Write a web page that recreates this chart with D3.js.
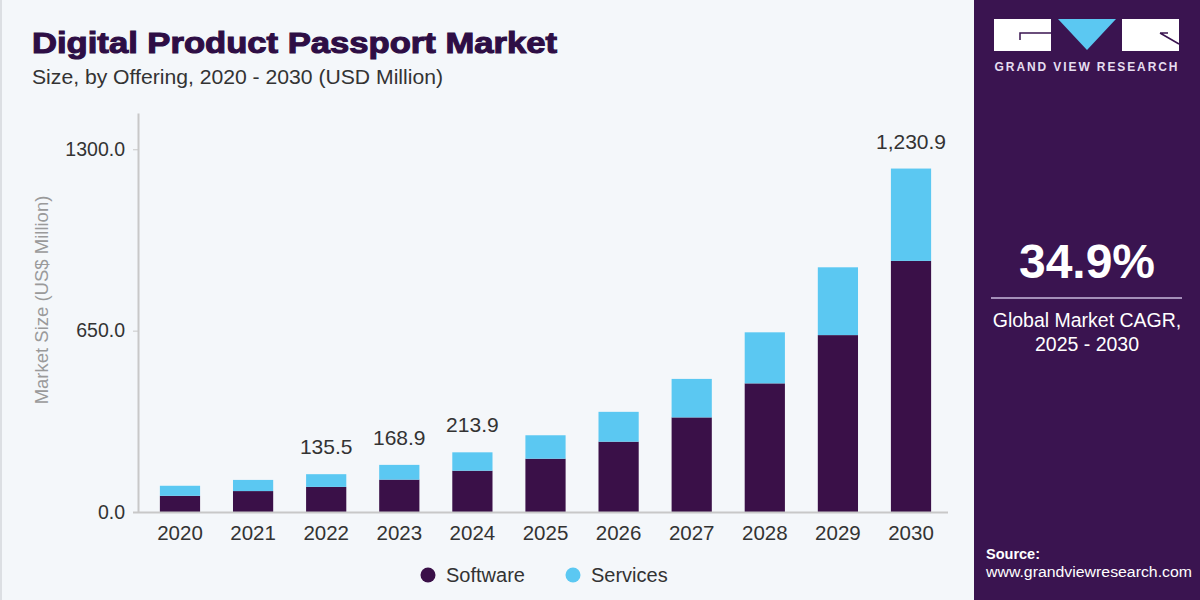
<!DOCTYPE html>
<html>
<head>
<meta charset="utf-8">
<script src="https://cdn.jsdelivr.net/npm/d3@7"></script>
<style>
  html, body { margin: 0; padding: 0; background: #f4f7fa; }
  svg { display: block; }
  text { font-family: "Liberation Sans", Arial, sans-serif; }
</style>
</head>
<body>
<svg id="chart" width="1200" height="600"></svg>
<script>
// ---- data ----
const years = ["2020","2021","2022","2023","2024","2025","2026","2027","2028","2029","2030"];
const software = [58, 75, 90, 116, 148, 191, 252, 339, 461, 634, 900];
const services = [36, 40, 45.5, 52.9, 65.9, 84, 107, 138, 183, 243, 330.9];
const totalLabels = [null, null, 135.5, 168.9, 213.9, null, null, null, null, null, 1230.9];
const yTicks = [0, 650, 1300];
const seriesNames = ["Software", "Services"];
const seriesColors = ["#3a1048", "#5bc8f2"];

const svg = d3.select("#chart");
const W = 1200, H = 600;

// background + left border
svg.append("rect").attr("width", W).attr("height", H).attr("fill", "#f4f7fa");
svg.append("rect").attr("x", 0).attr("y", 0).attr("width", 2).attr("height", H).attr("fill", "#dcdfe3");

// right panel
const panel = svg.append("g");
panel.append("rect").attr("x", 974).attr("y", 0).attr("width", 226).attr("height", H).attr("fill", "#3a1450");

// logo
panel.append("rect").attr("x", 994).attr("y", 19).attr("width", 57).attr("height", 32).attr("fill", "#ffffff");
panel.append("path").attr("d", "M1020,40 V33 H1051").attr("fill", "none").attr("stroke", "#3a1450").attr("stroke-width", 1.5);
panel.append("path").attr("d", "M1058,19 H1116 L1087,50 Z").attr("fill", "#5bc8f2");
panel.append("rect").attr("x", 1122).attr("y", 19).attr("width", 57).attr("height", 32).attr("fill", "#ffffff");
panel.append("path").attr("d", "M1160,33 L1179,44 M1160,33 H1168").attr("fill", "none").attr("stroke", "#3a1450").attr("stroke-width", 1.5);
panel.append("text").attr("x", 1087).attr("y", 71).attr("text-anchor", "middle")
  .attr("fill", "#e6def0").attr("font-size", 12).attr("font-weight", "bold").attr("letter-spacing", 1.9)
  .text("GRAND VIEW RESEARCH");

// CAGR
panel.append("text").attr("x", 1087).attr("y", 278).attr("text-anchor", "middle")
  .attr("fill", "#ffffff").attr("font-size", 48).attr("font-weight", "bold").text("34.9%");
panel.append("line").attr("x1", 991).attr("x2", 1182).attr("y1", 298).attr("y2", 298)
  .attr("stroke", "#c9b8dc").attr("stroke-width", 1.5);
panel.append("text").attr("x", 1087).attr("y", 327).attr("text-anchor", "middle")
  .attr("fill", "#ffffff").attr("font-size", 19.5).text("Global Market CAGR,");
panel.append("text").attr("x", 1087).attr("y", 351).attr("text-anchor", "middle")
  .attr("fill", "#ffffff").attr("font-size", 19.5).text("2025 - 2030");

// source
panel.append("text").attr("x", 986).attr("y", 559).attr("fill", "#ffffff")
  .attr("font-size", 14.5).attr("font-weight", "bold").text("Source:");
panel.append("text").attr("x", 986).attr("y", 577).attr("fill", "#ffffff")
  .attr("font-size", 15.5).attr("textLength", 206).attr("lengthAdjust", "spacingAndGlyphs")
  .text("www.grandviewresearch.com");

// titles
svg.append("text").attr("x", 32).attr("y", 53).attr("fill", "#2e0e45")
  .attr("font-size", 30).attr("font-weight", "bold")
  .attr("textLength", 525).attr("lengthAdjust", "spacingAndGlyphs")
  .attr("stroke", "#2e0e45").attr("stroke-width", 1.1)
  .text("Digital Product Passport Market");
svg.append("text").attr("x", 32).attr("y", 84).attr("fill", "#333333")
  .attr("font-size", 20).attr("textLength", 411).attr("lengthAdjust", "spacingAndGlyphs")
  .text("Size, by Offering, 2020 - 2030 (USD Million)");

// scales
const x = d3.scaleBand().domain(years).range([140, 951]).paddingInner(0.45).paddingOuter(0.272);
const y = d3.scaleLinear().domain([0, 1430]).range([512, 113]);

// stacked data
const rows = years.map((yr, i) => ({ year: yr, Software: software[i], Services: services[i] }));
const stacked = d3.stack().keys(seriesNames)(rows);

const gBars = svg.append("g");
stacked.forEach((layer, li) => {
  gBars.selectAll(null).data(layer).enter().append("rect")
    .attr("x", d => x(d.data.year))
    .attr("width", x.bandwidth())
    .attr("y", d => y(d[1]))
    .attr("height", d => y(d[0]) - y(d[1]))
    .attr("fill", seriesColors[li]);
});

// total labels
const fmt = d3.format(",.1f");
svg.append("g").selectAll("text").data(years.map((yr, i) => ({ year: yr, v: totalLabels[i], top: software[i] + services[i] })).filter(d => d.v != null))
  .enter().append("text")
  .attr("x", d => x(d.year) + x.bandwidth() / 2)
  .attr("y", d => y(d.top) - 20)
  .attr("text-anchor", "middle").attr("fill", "#333333").attr("font-size", 21)
  .text(d => fmt(d.v));

// y axis
const yAxis = svg.append("g").attr("transform", "translate(138,0)")
  .call(d3.axisLeft(y).tickValues(yTicks).tickFormat(d3.format(".1f")).tickSize(5).tickSizeOuter(0));
yAxis.select(".domain").attr("stroke", "#c8c8c8").attr("stroke-width", 2);
yAxis.selectAll(".tick line").attr("stroke", "#c8c8c8");
yAxis.selectAll(".tick text").attr("fill", "#333333").attr("font-size", 19.5)
  .attr("font-family", "Liberation Sans, Arial, sans-serif").attr("x", -13);

// x axis
const xAxis = svg.append("g").attr("transform", "translate(0,512)")
  .call(d3.axisBottom(x).tickSize(0).tickSizeOuter(0));
xAxis.select(".domain").attr("stroke", "#c8c8c8").attr("stroke-width", 2)
  .attr("d", "M133,0.5H948");
xAxis.selectAll(".tick text").attr("fill", "#333333").attr("font-size", 20.5)
  .attr("font-family", "Liberation Sans, Arial, sans-serif").attr("dy", "1.2em");

// y title
svg.append("text").attr("transform", "translate(48,300) rotate(-90)")
  .attr("text-anchor", "middle").attr("fill", "#9a9a9a").attr("font-size", 18.5)
  .text("Market Size (US$ Million)");

// legend
const legendX = [428, 573];
const lg = svg.append("g");
seriesNames.forEach((name, i) => {
  lg.append("circle").attr("cx", legendX[i]).attr("cy", 575).attr("r", 7.5).attr("fill", seriesColors[i]);
  lg.append("text").attr("x", legendX[i] + 18).attr("y", 582).attr("fill", "#333333")
    .attr("font-size", 20).text(name);
});
</script>
</body>
</html>
